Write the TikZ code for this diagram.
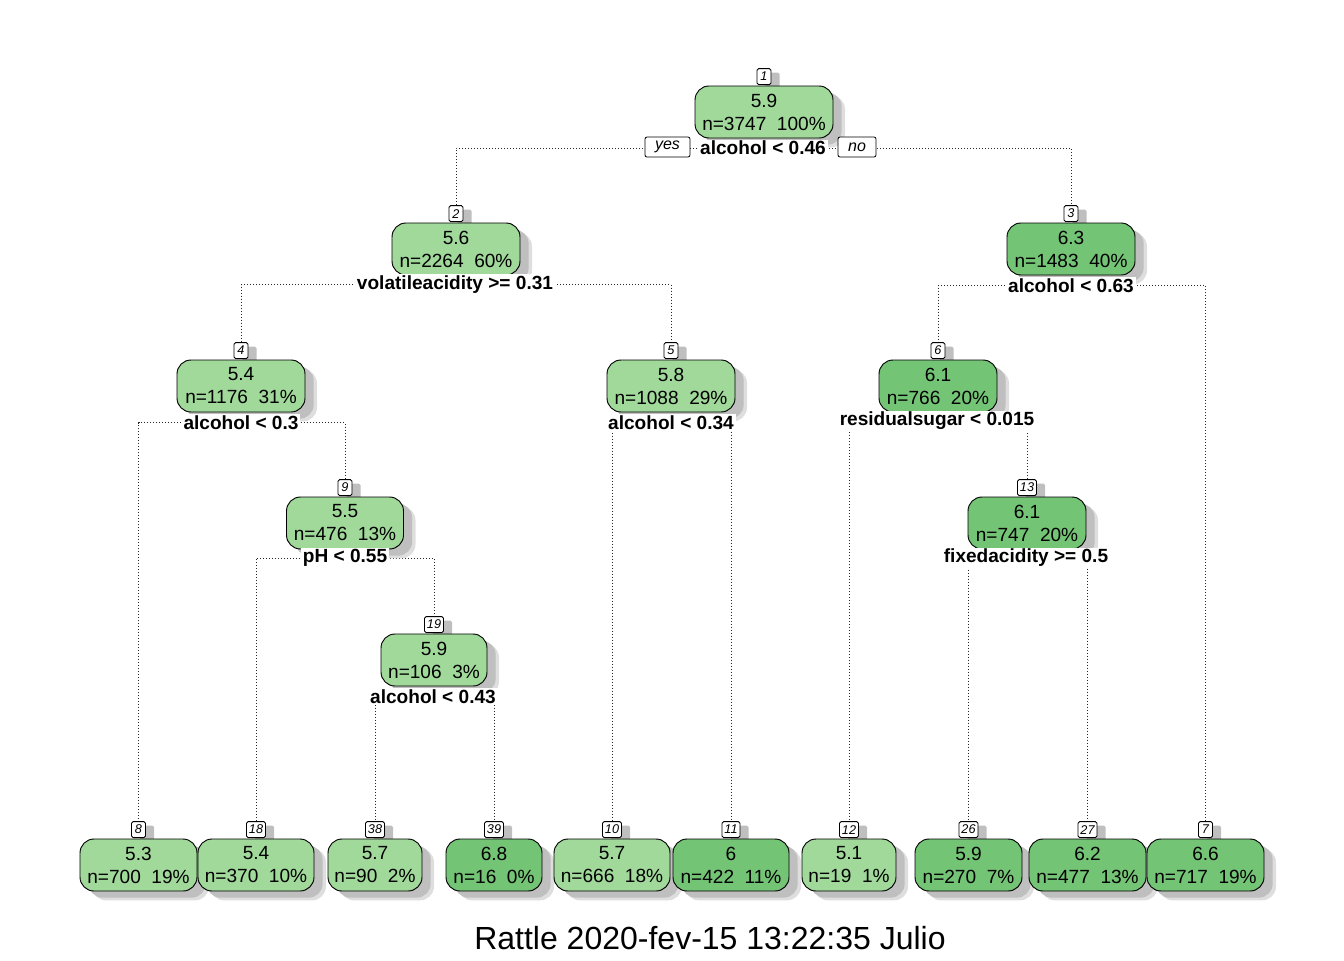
\documentclass[tikz,border=0pt]{standalone}
\usepackage{fontspec}
\setmainfont{Liberation Sans}
\setsansfont{Liberation Sans}
\usetikzlibrary{shadows}
\pgfdeclarelayer{background}
\pgfsetlayers{background,main}

\definecolor{lightgrn}{HTML}{A1D99B}
\definecolor{darkgrn}{HTML}{74C476}

\tikzset{
  treebox/.style={draw=black, line width=0.7pt, rounded corners=10.5pt,
    minimum height=39pt, inner xsep=2pt, inner ysep=0pt, align=center,
    font=\fontsize{14.3}{17.25}\selectfont,
    drop shadow={shadow xshift=9pt, shadow yshift=-7pt, fill=black!13, opacity=1},
    drop shadow={shadow xshift=6.5pt, shadow yshift=-5pt, fill=black!25, opacity=1}},
  numbox/.style={draw=black, line width=0.6pt, fill=white, rounded corners=1.2pt,
    anchor=south, minimum height=12pt, minimum width=10.5pt, inner xsep=1.8pt, inner ysep=0pt,
    font=\fontsize{9.5}{10}\selectfont\itshape,
    drop shadow={shadow xshift=6.5pt, shadow yshift=-3pt, fill=black!25, opacity=1}},
  splitlbl/.style={fill=white, inner xsep=1.5pt, inner ysep=1pt,
    font=\fontsize{14.3}{16}\selectfont\bfseries},
  yesno/.style={draw=black, line width=0.6pt, fill=white, rounded corners=1.5pt,
    minimum height=15pt, inner sep=0pt, font=\fontsize{12}{13}\selectfont\itshape},
  branch/.style={line width=0.75pt, black!85, dash pattern=on 0.75pt off 1.5pt},
}

\newcommand{\gap}{\hspace{0.556em}}
% name, x, y (box centre, px), box width (pt), fill, number, value, counts
\newcommand{\tnd}[8]{%
  \node[numbox] (n#1) at (#2,#3-27) {#6};
  \node[treebox, fill=#5, minimum width=#4pt] (b#1) at (#2,#3) {\rule{0pt}{1.5pt}#7\\n=#8};
}

\begin{document}
\begin{tikzpicture}[x=0.75pt, y=-0.75pt]
\useasboundingbox (0,0) rectangle (1344,960);

% inner nodes
\tnd{1}{764}{112}{103.5}{lightgrn}{1}{5.9}{3747\gap 100\%}
\tnd{2}{456}{249}{96}{lightgrn}{2}{5.6}{2264\gap 60\%}
\tnd{3}{1071}{249}{96}{darkgrn}{3}{6.3}{1483\gap 40\%}
\tnd{4}{241}{386}{96}{lightgrn}{4}{5.4}{1176\gap 31\%}
\tnd{5}{671}{386}{96}{lightgrn}{5}{5.8}{1088\gap 29\%}
\tnd{6}{938}{386}{88.5}{darkgrn}{6}{6.1}{766\gap 20\%}
\tnd{9}{345}{523}{87.75}{lightgrn}{9}{5.5}{476\gap 13\%}
\tnd{13}{1027}{523}{88.5}{darkgrn}{13}{6.1}{747\gap 20\%}
\tnd{19}{434}{660}{79.5}{lightgrn}{19}{5.9}{106\gap 3\%}

% leaves
\tnd{8}{138.5}{865}{87.75}{lightgrn}{8}{5.3}{700\gap 19\%}
\tnd{18}{256}{865}{87}{lightgrn}{18}{5.4}{370\gap 10\%}
\tnd{38}{375}{865}{70.5}{lightgrn}{38}{5.7}{90\gap 2\%}
\tnd{39}{494}{865}{72}{darkgrn}{39}{6.8}{16\gap 0\%}
\tnd{10}{612}{865}{87}{lightgrn}{10}{5.7}{666\gap 18\%}
\tnd{11}{731}{865}{87}{darkgrn}{11}{6}{422\gap 11\%}
\tnd{12}{849}{865}{70.5}{lightgrn}{12}{5.1}{19\gap 1\%}
\tnd{26}{968.5}{865}{80.25}{darkgrn}{26}{5.9}{270\gap 7\%}
\tnd{27}{1087.5}{865}{87.75}{darkgrn}{27}{6.2}{477\gap 13\%}
\tnd{7}{1205.5}{865}{87.75}{darkgrn}{7}{6.6}{717\gap 19\%}

% split labels
\node[splitlbl] (s1) at (763,148) {alcohol < 0.46};
\node[splitlbl] (s2) at (455,284.5) {volatileacidity >= 0.31};
\node[splitlbl] (s3) at (1071,285.5) {alcohol < 0.63};
\node[splitlbl] (s4) at (241,422.5) {alcohol < 0.3};
\node[splitlbl] (s5) at (671,422.5) {alcohol < 0.34};
\node[splitlbl] (s6) at (937,421) {residualsugar < 0.015};
\node[splitlbl] (s9) at (345,558) {pH < 0.55};
\node[splitlbl] (s13) at (1026,558) {fixedacidity >= 0.5};
\node[splitlbl] (s19) at (433,696.5) {alcohol < 0.43};

\node[yesno, minimum width=33.75pt] (yes) at (667.5,147) {yes};
\node[yesno, minimum width=28.5pt] (no) at (857,147) {no};

% branches
\begin{pgfonlayer}{background}
\foreach \p/\c in {1/2,1/3,2/4,2/5,3/6,3/7,4/8,4/9,5/10,5/11,6/12,6/13,9/18,9/19,13/26,13/27,19/38,19/39}
  \draw[branch] (s\p.center) -| (n\c.north);
\end{pgfonlayer}

\node[font=\fontsize{24}{28}\selectfont] (title) at (710,938) {Rattle 2020-fev-15 13:22:35 Julio};
\end{tikzpicture}
\end{document}
